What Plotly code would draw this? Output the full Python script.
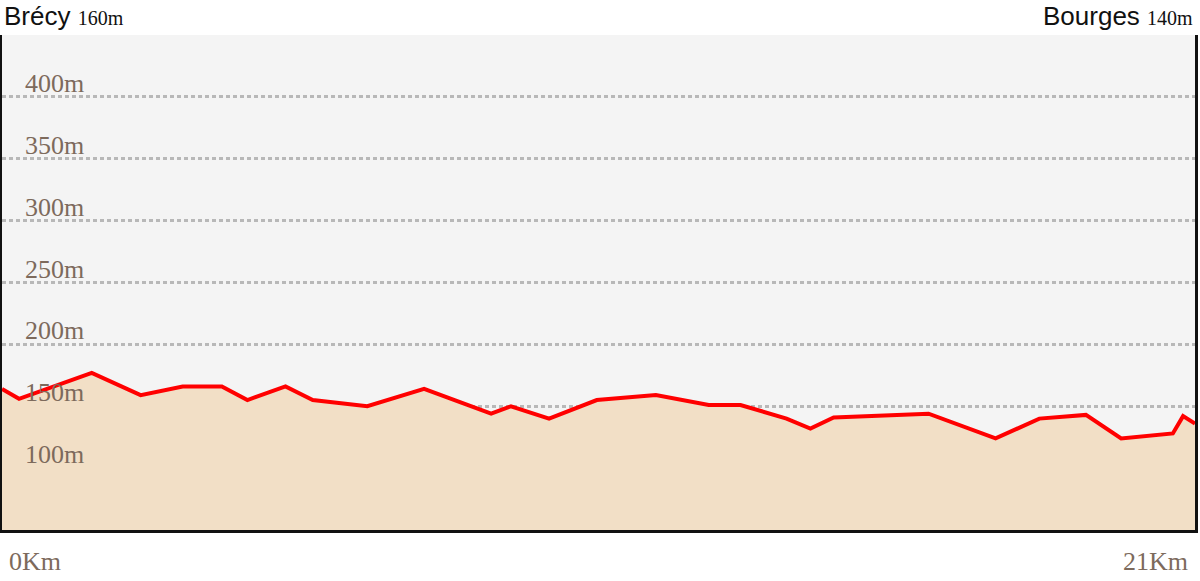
import plotly.graph_objects as go

# Distance along the route (km) and elevation (m)
distance_km = [0.0, 0.30, 1.58, 2.44, 3.18, 3.87, 4.32, 4.99, 5.47, 6.43, 7.43,
               8.61, 8.96, 9.63, 10.47, 11.51, 12.44, 13.00, 13.81, 14.23, 14.64,
               16.31, 17.49, 18.26, 19.08, 19.70, 20.61, 20.79, 21.0]
elevation_m = [164, 156, 177, 159, 166, 166, 155, 166, 155, 150, 164,
               144, 150, 140, 155, 159, 151, 151, 140, 132, 141,
               144, 124, 140, 143, 124, 128, 142, 136]

grid_values = [100, 150, 200, 250, 300, 350, 400]
grid_labels = ["100m", "150m", "200m", "250m", "300m", "350m", "400m"]
x_labels = ["0Km", "21Km"]
start_name, start_alt = "Brécy", "160m"
end_name, end_alt = "Bourges", "140m"

SERIF = "Liberation Serif, DejaVu Serif, serif"
SANS = "Liberation Sans, Arial, sans-serif"
LABEL_COLOR = "#7d6a5c"

fig = go.Figure()
fig.add_trace(go.Scatter(
    x=distance_km, y=elevation_m, mode="lines",
    line=dict(color="#ff0000", width=4),
    fill="tozeroy", fillcolor="#f2dfc6",
    hoverinfo="skip", showlegend=False,
))

annotations = []
for v, lab in zip(grid_values, grid_labels):
    annotations.append(dict(
        x=0.018, xref="paper", y=v, yref="y", text=lab, showarrow=False,
        xanchor="left", yanchor="bottom", yshift=-3,
        font=dict(family=SERIF, size=26, color=LABEL_COLOR),
    ))
annotations.append(dict(
    x=0.004, xref="paper", y=-0.03, yref="paper", text=x_labels[0], showarrow=False,
    xanchor="left", yanchor="top", font=dict(family=SERIF, size=26, color=LABEL_COLOR)))
annotations.append(dict(
    x=0.996, xref="paper", y=-0.03, yref="paper", text=x_labels[1], showarrow=False,
    xanchor="right", yanchor="top", font=dict(family=SERIF, size=26, color=LABEL_COLOR)))
annotations.append(dict(
    x=0, xref="paper", y=1.0, yref="paper", yshift=2,
    text=f"{start_name} <span style='font-family:{SERIF};font-size:20px'>{start_alt}</span>",
    showarrow=False, xanchor="left", yanchor="bottom",
    font=dict(family=SANS, size=26, color="#111111")))
annotations.append(dict(
    x=1, xref="paper", y=1.0, yref="paper", yshift=2,
    text=f"{end_name} <span style='font-family:{SERIF};font-size:20px'>{end_alt}</span>",
    showarrow=False, xanchor="right", yanchor="bottom",
    font=dict(family=SANS, size=26, color="#111111")))

fig.update_layout(
    width=1200, height=581,
    margin=dict(l=2, r=3, t=35, b=51),
    paper_bgcolor="white", plot_bgcolor="#f4f4f4",
    annotations=annotations,
    xaxis=dict(range=[0, 21], showgrid=False, zeroline=False, showticklabels=False,
               ticks="", showline=True, linecolor="#111111", linewidth=3, mirror=False),
    yaxis=dict(range=[50, 450], tickvals=grid_values, showticklabels=False, ticks="",
               showgrid=True, gridcolor="#b8b8b8", gridwidth=2.5, griddash="4px,3px",
               zeroline=False, showline=True, linecolor="#111111", linewidth=3,
               mirror=True, layer="above traces"),
)
fig.write_html("out.html", config={"displayModeBar": False},
               post_script="document.body.style.margin='0';document.body.style.overflow='hidden';")
